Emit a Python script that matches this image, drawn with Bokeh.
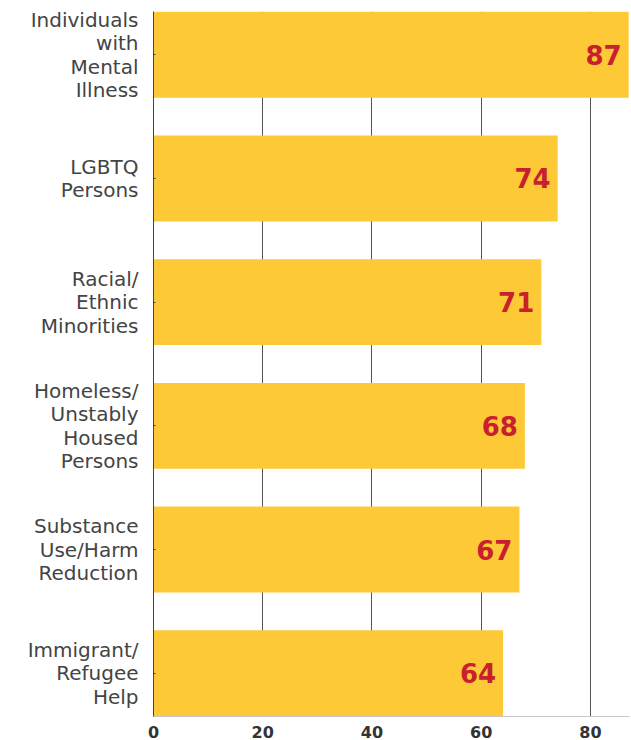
from bokeh.plotting import figure
from bokeh.models import Range1d, FixedTicker, ColumnDataSource
from bokeh.core.properties import value
from bokeh.embed import file_html
from bokeh.resources import INLINE

categories = ["Individuals\nwith\nMental\nIllness", "LGBTQ\nPersons", "Racial/\nEthnic\nMinorities",
              "Homeless/\nUnstably\nHoused\nPersons", "Substance\nUse/Harm\nReduction",
              "Immigrant/\nRefugee\nHelp"]
values = [87, 74, 71, 68, 67, 64]
x_ticks = [0, 20, 40, 60, 80]

pos = list(range(len(categories)))
src = ColumnDataSource(dict(y=pos, v=values, lbl=[str(v) for v in values]))

p = figure(width=631, height=740, output_backend="svg", toolbar_location=None,
           x_range=Range1d(0, 87.15), y_range=Range1d(len(categories) - 0.65, -0.35),
           min_border_left=153, min_border_right=2, min_border_top=11, min_border_bottom=23)
p.outline_line_color = None
p.background_fill_color = "white"

p.hbar(y="y", left=0, right="v", height=0.694, source=src, color="#FDC936", line_color=None)
p.text(x="v", y="y", text="lbl", source=src, x_offset=-7, text_align="right", text_baseline="middle",
       text_font=value("DejaVu Sans"), text_font_style="bold", text_font_size="26px", text_color="#C8202E")

p.xgrid.ticker = FixedTicker(ticks=x_ticks)
p.xgrid.grid_line_color = "#555555"
p.xgrid.grid_line_width = 1
p.ygrid.grid_line_color = None

xa = p.xaxis[0]
xa.ticker = FixedTicker(ticks=x_ticks)
xa.axis_line_color = "#c8c8c8"
xa.major_tick_line_color = None
xa.minor_tick_line_color = None
xa.major_label_text_font = "DejaVu Sans"
xa.major_label_text_font_style = "bold"
xa.major_label_text_font_size = "16px"
xa.major_label_text_color = "#333333"
xa.major_label_standoff = 3

ya = p.yaxis[0]
ya.ticker = FixedTicker(ticks=pos)
ya.major_label_overrides = {i: c for i, c in enumerate(categories)}
ya.axis_line_color = "#444444"
ya.major_tick_line_color = "#444444"
ya.major_tick_out = 0
ya.major_tick_in = 2
ya.minor_tick_line_color = None
ya.major_label_text_font = "DejaVu Sans"
ya.major_label_text_font_size = "20px"
ya.major_label_text_color = "#444444"
ya.major_label_text_line_height = 0.98
ya.major_label_standoff = 15

open("out.html", "w").write(file_html(p, INLINE))
